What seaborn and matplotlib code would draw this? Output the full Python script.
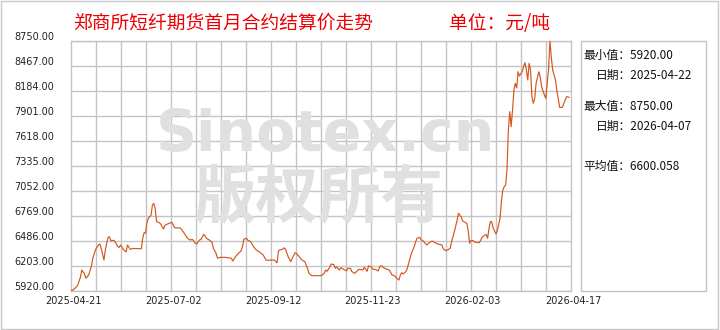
import numpy as np
import pandas as pd
import matplotlib
matplotlib.use("Agg")
import matplotlib.pyplot as plt
import matplotlib.dates as mdates
import matplotlib.transforms as mtransforms
from matplotlib.patches import Rectangle
import seaborn as sns

sns.set_theme(style="white")
plt.rcParams['font.family'] = ['Noto Sans CJK SC', 'DejaVu Sans']

# ---------------- data ----------------
start_date = "2025-04-21"
# days after start_date
days = [0, 1, 3, 5, 7, 8, 10, 11, 13, 15, 16, 18, 20, 21, 22, 24, 25, 26, 27, 28,
        29, 31, 32, 34, 35, 36, 38, 40, 41, 43, 45, 51, 52, 53, 54, 55, 56, 58, 59, 60,
        61, 62, 64, 65, 67, 68, 71, 73, 75, 79, 80, 82, 84, 86, 88, 90, 91, 93, 94, 96,
        97, 98, 100, 102, 103, 105, 106, 108, 111, 113, 116, 117, 119, 121, 123, 124, 125, 127, 128, 130,
        132, 134, 136, 139, 141, 143, 145, 147, 149, 150, 151, 153, 154, 155, 156, 157, 159, 160, 162, 163,
        165, 167, 169, 171, 172, 174, 181, 183, 184, 185, 187, 188, 190, 191, 192, 194, 195, 197, 199, 200,
        202, 203, 205, 207, 208, 211, 212, 214, 215, 217, 218, 220, 222, 223, 224, 226, 228, 230, 232, 234,
        235, 237, 238, 239, 240, 242, 243, 244, 246, 247, 248, 249, 250, 252, 253, 254, 256, 257, 259, 261,
        263, 265, 268, 269, 271, 272, 274, 275, 277, 279, 280, 282, 283, 285, 286, 287, 288, 289, 290, 292,
        294, 295, 296, 297, 299, 300, 301, 302, 303, 304, 305, 307, 308, 310, 311, 312, 313, 314, 315, 316,
        317, 318, 319, 320, 321, 322, 323, 324, 326, 327, 328, 329, 330, 331, 332, 333, 334, 335, 336, 338,
        339, 340, 342, 343, 344, 345, 346, 347, 348, 350, 351, 352, 353, 355, 357, 358, 360]
prices = [5930, 5920, 5945, 5980, 6072, 6154, 6110, 6060, 6098, 6200, 6287, 6388, 6437, 6449, 6400, 6267, 6380, 6457, 6524, 6531,
          6486, 6490, 6475, 6418, 6410, 6437, 6388, 6358, 6437, 6388, 6398, 6395, 6513, 6576, 6570, 6683, 6740, 6774, 6890, 6909,
          6850, 6702, 6690, 6675, 6618, 6660, 6683, 6694, 6633, 6630, 6615, 6570, 6520, 6494, 6500, 6457, 6449, 6494, 6500, 6558,
          6540, 6513, 6494, 6470, 6399, 6343, 6287, 6298, 6298, 6295, 6287, 6256, 6305, 6343, 6370, 6418, 6502, 6513, 6490, 6475,
          6418, 6381, 6362, 6324, 6267, 6264, 6267, 6267, 6237, 6370, 6380, 6390, 6405, 6390, 6350, 6305, 6248, 6290, 6350, 6340,
          6305, 6267, 6250, 6173, 6117, 6090, 6090, 6117, 6154, 6140, 6184, 6222, 6215, 6173, 6190, 6154, 6180, 6162, 6145, 6173,
          6173, 6135, 6117, 6145, 6162, 6155, 6185, 6140, 6200, 6190, 6165, 6160, 6143, 6185, 6203, 6180, 6165, 6154, 6098, 6088,
          6067, 6041, 6098, 6124, 6110, 6135, 6173, 6230, 6343, 6380, 6418, 6470, 6513, 6524, 6494, 6490, 6457, 6437, 6465, 6483,
          6465, 6449, 6437, 6392, 6373, 6380, 6400, 6475, 6588, 6720, 6796, 6755, 6709, 6690, 6683, 6600, 6457, 6486, 6490, 6470,
          6464, 6464, 6490, 6524, 6550, 6556, 6513, 6620, 6702, 6700, 6630, 6562, 6600, 6740, 6939, 7060, 7097, 7116, 7286, 7739,
          7946, 7776, 7966, 8192, 8267, 8215, 8399, 8350, 8400, 8463, 8501, 8420, 8305, 8495, 8419, 8116, 8041, 8097, 8267, 8399,
          8342, 8229, 8135, 8097, 8267, 8419, 8750, 8560, 8419, 8305, 8184, 8097, 7995, 7995, 8079, 8116, 8109]

y_ticks = [5920, 6203, 6486, 6769, 7052, 7335, 7618, 7901, 8184, 8467, 8750]
x_tick_labels = ["2025-04-21", "2025-07-02", "2025-09-12", "2025-11-23", "2026-02-03", "2026-04-17"]

title_text = "郑商所短纤期货首月合约结算价走势"
unit_text = "单位：元/吨"
stats_lines = [("最小值：5920.00", 0), ("日期：2025-04-22", 1),
               ("最大值：8750.00", 0), ("日期：2026-04-07", 1),
               ("平均值：6600.058", 0)]

df = pd.DataFrame({
    "date": pd.to_datetime(start_date) + pd.to_timedelta(days, unit="D"),
    "price": prices,
})

# ---------------- figure ----------------
W, H = 720, 330
fig = plt.figure(figsize=(W / 100, H / 100), dpi=100)
fig.patch.set_facecolor("white")

def fx(px):
    return px / W

def fy(py):
    return 1 - py / H

ax = fig.add_axes([fx(70.7), fy(290.7), 500 / W, 250 / H])
ax.set_facecolor("white")

grid_c = "#c4c4c4"
x0 = mdates.date2num(pd.Timestamp(x_tick_labels[0]))
x1 = mdates.date2num(pd.Timestamp(x_tick_labels[-1]))

# watermark
ax.text(0.51, 0.62, "Sinotex.cn", transform=ax.transAxes, ha="center", va="center",
        fontsize=41, fontweight="bold", color="#e0e0e0", family="DejaVu Sans", zorder=3)
ax.text(0.495, 0.37, "版权所有", transform=ax.transAxes, ha="center", va="center",
        fontsize=45, fontweight="bold", color="#e0e0e0", family=["Noto Sans CJK SC"], zorder=3)

sns.lineplot(data=df, x="date", y="price", ax=ax, color="#d4561e", linewidth=0.85, zorder=5)

ax.set_xlim(x0, x1)
ax.set_ylim(y_ticks[0], y_ticks[-1])
ax.set_yticks(y_ticks)
ax.set_yticklabels([f"{v:.2f}" for v in y_ticks])
ax.set_xticks([mdates.date2num(pd.Timestamp(s)) for s in x_tick_labels])
ax.set_xticklabels(x_tick_labels)
ax.set_xticks(np.linspace(x0, x1, 21), minor=True)
ax.set_xlabel("")
ax.set_ylabel("")

ax.grid(False)
ax.grid(True, which="minor", axis="x", color=grid_c, linewidth=1.0, zorder=1)
ax.grid(True, which="major", axis="y", color=grid_c, linewidth=1.0, zorder=1)
ax.set_axisbelow(True)
for s in ax.spines.values():
    s.set_color(grid_c)
    s.set_linewidth(1.0)

ax.tick_params(axis="both", which="both", length=0)
ax.tick_params(axis="y", pad=12, labelsize=7, labelcolor="#222222")
ax.tick_params(axis="x", pad=3.5, labelsize=7, labelcolor="#222222")
for lab in ax.get_yticklabels():
    lab.set_family("DejaVu Sans")
    lab.set_transform(lab.get_transform() + mtransforms.ScaledTranslation(0, 0.045, fig.dpi_scale_trans))
for lab in ax.get_xticklabels():
    lab.set_family("DejaVu Sans")
    lab.set_transform(lab.get_transform() + mtransforms.ScaledTranslation(0.03, 0, fig.dpi_scale_trans))

# titles
fig.text(fx(73), fy(23), title_text, ha="left", va="center", fontsize=13.5, color="#ee0000")
fig.text(fx(449), fy(23), unit_text, ha="left", va="center", fontsize=13.5, color="#ee0000")

# stats box
fig.patches.append(Rectangle((fx(580.7), fy(290.7)), 125 / W, 250 / H, transform=fig.transFigure,
                             facecolor="white", edgecolor=grid_c, linewidth=1.0))
ys = [55.7, 75.7, 106, 126, 166]
for (txt, indent), py in zip(stats_lines, ys):
    fig.text(fx(583.5 + 12.5 * indent), fy(py), txt, ha="left", va="center", fontsize=8.5, color="#111111")

# outer frame
fig.patches.append(Rectangle((fx(1), fy(329)), 717 / W, 328 / H, transform=fig.transFigure,
                             facecolor="none", edgecolor="#c8c8c8", linewidth=1.0))

fig.savefig("out.png", dpi=100)
